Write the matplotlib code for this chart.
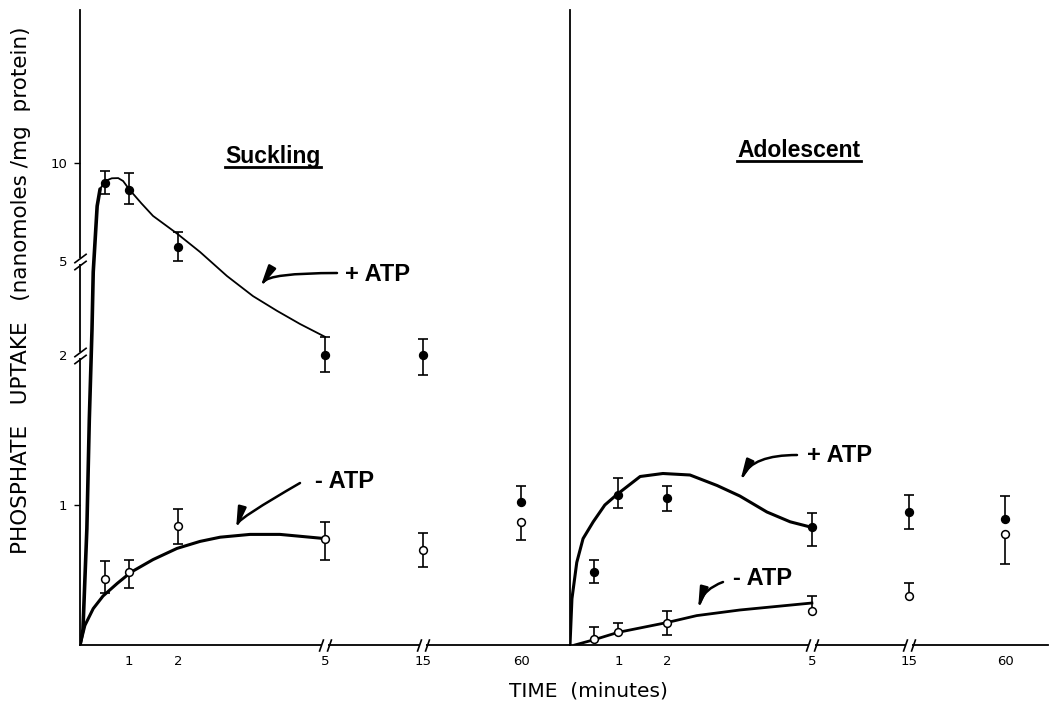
import numpy as np
import matplotlib
matplotlib.use('Agg')
import matplotlib.pyplot as plt
import matplotlib.transforms as mtransforms
from matplotlib.path import Path
from matplotlib.lines import Line2D

# ---------------- data ----------------
tick_times = [1, 2, 5, 15, 60]
tick_labels = ['1', '2', '5', '15', '60']
y_ticks = [1, 2, 5, 10]
y_tick_labels = ['1', '2', '5', '10']

times = [0.5, 1, 2, 5, 15, 60]

# Suckling, + ATP (filled circles)
suck_plus_y = [9.0, 8.6, 5.7, 2.0, 2.0, 1.02]
suck_plus_lo = [8.4, 7.9, 5.0, 1.89, 1.87, 1.02]
suck_plus_hi = [9.6, 9.5, 6.5, 2.58, 2.51, 1.13]
# Suckling, - ATP (open circles)
suck_minus_y = [0.47, 0.52, 0.85, 0.76, 0.68, 0.88]
suck_minus_lo = [0.37, 0.41, 0.72, 0.61, 0.56, 0.75]
suck_minus_hi = [0.60, 0.61, 0.97, 0.88, 0.80, 0.88]
# Adolescent, + ATP
adol_plus_y = [0.52, 1.07, 1.05, 0.84, 0.95, 0.90]
adol_plus_lo = [0.44, 0.98, 0.96, 0.71, 0.83, 0.90]
adol_plus_hi = [0.61, 1.18, 1.13, 0.94, 1.07, 1.06]
# Adolescent, - ATP
adol_minus_y = [0.04, 0.09, 0.16, 0.24, 0.35, 0.79]
adol_minus_lo = [0.04, 0.09, 0.07, 0.24, 0.35, 0.58]
adol_minus_hi = [0.13, 0.16, 0.24, 0.35, 0.44, 0.79]

# hand-drawn fitted curves
suck_plus_curve_t = [0, 0.06, 0.14, 0.19, 0.245, 0.27, 0.31, 0.35, 0.41, 0.51, 0.65, 0.78,
                     0.88, 1.0, 1.25, 1.49, 1.98, 2.45, 3.0, 3.53, 4.02, 4.49, 5.0]
suck_plus_curve_y = [0, 0.11, 0.83, 1.57, 2.83, 4.65, 6.12, 7.8, 8.67, 9.08, 9.22, 9.23,
                     9.08, 8.67, 7.95, 7.3, 6.4, 5.46, 4.52, 3.88, 3.41, 2.99, 2.58]
suck_minus_curve_t = [0, 0.10, 0.27, 0.47, 0.76, 1.04, 1.49, 1.98, 2.45, 2.86, 3.47, 4.08, 5.0]
suck_minus_curve_y = [0, 0.14, 0.26, 0.35, 0.44, 0.52, 0.61, 0.69, 0.74, 0.77, 0.79, 0.79, 0.76]
adol_plus_curve_t = [0, 0.04, 0.14, 0.27, 0.48, 0.72, 0.97, 1.45, 1.92, 2.48, 3.04, 3.51,
                     4.07, 4.55, 5.0]
adol_plus_curve_y = [0, 0.33, 0.59, 0.76, 0.88, 1.0, 1.07, 1.19, 1.21, 1.20, 1.13, 1.06,
                     0.95, 0.88, 0.84]
adol_minus_curve_t = [0.1, 0.52, 0.99, 2.0, 2.62, 3.51, 5.0]
adol_minus_curve_y = [0, 0.04, 0.09, 0.16, 0.21, 0.25, 0.30]

# ---------------- broken scales ----------------
Y_KNOTS_V = [-1, 0, 1, 2, 5, 10, 20]
Y_KNOTS_P = [-140, 0, 140, 290, 384, 482, 678]
X_KNOTS_T = [-5, 0, 5, 15, 60, 120]
X_KNOTS_U = [-5, 0, 5, 7, 9, 11]


def y_fwd(v):
    return np.interp(np.asarray(v, float), Y_KNOTS_V, Y_KNOTS_P)


def y_inv(p):
    return np.interp(np.asarray(p, float), Y_KNOTS_P, Y_KNOTS_V)


def x_fwd(t):
    return np.interp(np.asarray(t, float), X_KNOTS_T, X_KNOTS_U)


def x_inv(u):
    return np.interp(np.asarray(u, float), X_KNOTS_U, X_KNOTS_T)


W, H = 1050, 704
fig = plt.figure(figsize=(W / 100, H / 100), dpi=100)
ax1 = fig.add_axes([80 / W, 59 / H, 490 / W, 635 / H])
ax2 = fig.add_axes([570 / W, 59 / H, 478 / W, 635 / H])

for ax, umax in ((ax1, 10.0), (ax2, 9.88)):
    ax.set_xscale('function', functions=(x_fwd, x_inv))
    ax.set_yscale('function', functions=(y_fwd, y_inv))
    ax.set_xlim(0, float(x_inv(umax)))
    ax.set_ylim(0, float(y_inv(635)))
    ax.patch.set_alpha(0)
    for s in ('top', 'right'):
        ax.spines[s].set_visible(False)
    for s in ('left', 'bottom'):
        ax.spines[s].set_linewidth(1.3)
    ax.set_xticks(tick_times)
    ax.set_xticklabels(tick_labels, fontfamily='DejaVu Sans', fontsize=9.5)
    ax.tick_params(axis='x', length=0, pad=7)

ax1.set_yticks(y_ticks)
ax1.set_yticklabels(y_tick_labels, fontfamily='DejaVu Sans', fontsize=9.5)
ax1.tick_params(axis='y', length=4, width=1, pad=5, direction='out')
for tk, val in zip(ax1.yaxis.get_major_ticks(), y_ticks):
    if val in (2, 5):
        tk.tick1line.set_visible(False)
ax2.set_yticks([])


def points(ax, y, lo, hi, filled):
    t = np.array(times, float)
    y = np.array(y, float)
    lo = np.array(lo, float)
    hi = np.array(hi, float)
    ax.vlines(t, lo, hi, color='k', lw=1.2, zorder=3)
    m = hi > y
    ax.plot(t[m], hi[m], ls='none', marker='_', ms=7.5, mew=1.2, color='k', zorder=3)
    m = lo < y
    ax.plot(t[m], lo[m], ls='none', marker='_', ms=7.5, mew=1.2, color='k', zorder=3)
    ax.plot(t, y, ls='none', marker='o', ms=5.6, mew=1.1, mec='k',
            mfc='k' if filled else 'white', zorder=5)


points(ax1, suck_plus_y, suck_plus_lo, suck_plus_hi, True)
points(ax1, suck_minus_y, suck_minus_lo, suck_minus_hi, False)
points(ax2, adol_plus_y, adol_plus_lo, adol_plus_hi, True)
points(ax2, adol_minus_y, adol_minus_lo, adol_minus_hi, False)

ax1.plot(suck_plus_curve_t, suck_plus_curve_y, color='k', lw=1.3, zorder=4)
ax1.plot(suck_plus_curve_t[:9], suck_plus_curve_y[:9], color='k', lw=2.6, zorder=4,
         solid_capstyle='round')
ax1.plot(suck_minus_curve_t, suck_minus_curve_y, color='k', lw=2.2, zorder=4)
ax2.plot(adol_plus_curve_t, adol_plus_curve_y, color='k', lw=2.2, zorder=4)
ax2.plot(adol_minus_curve_t, adol_minus_curve_y, color='k', lw=2.0, zorder=4)


# ---------------- axis break marks ----------------
def break_mark(ax, pos, axis):
    if axis == 'x':
        base = ax.get_xaxis_transform()
        xy = (pos, 0)
        gap = Path([(-1, 0), (1, 0)])
        slash = Path([(-0.35, -1), (0.35, 1)])
        offs = [(-4, 0), (4, 0)]
    else:
        base = ax.get_yaxis_transform()
        xy = (0, pos)
        gap = Path([(0, -1), (0, 1)])
        slash = Path([(-1, -0.75), (1, 0.75)])
        offs = [(0, -3.5), (0, 3.5)]
    ax.plot([xy[0]], [xy[1]], transform=base, marker=gap, ms=5, mew=4,
            color='white', clip_on=False, zorder=6)
    for dx, dy in offs:
        tr = mtransforms.offset_copy(base, fig=ax.figure, x=dx, y=dy, units='dots')
        ax.plot([xy[0]], [xy[1]], transform=tr, marker=slash, ms=9, mew=1.2,
                color='k', clip_on=False, zorder=7)


for ax in (ax1, ax2):
    break_mark(ax, 5, 'x')
    break_mark(ax, 15, 'x')
break_mark(ax1, 2, 'y')
break_mark(ax1, 5, 'y')

# ---------------- labels ----------------
fig.text(21 / W, 414 / H, 'PHOSPHATE   UPTAKE   (nanomoles /mg  protein)',
         rotation=90, ha='center', va='center', fontsize=15.5, fontfamily='DejaVu Sans')
fig.text(588 / W, 13 / H, 'TIME  (minutes)', ha='center', va='center',
         fontsize=14.5, fontfamily='DejaVu Sans')

bold = dict(fontfamily='Liberation Sans', fontweight='bold')
t_suck = fig.text(273 / W, 541 / H, 'Suckling', ha='center', va='baseline', fontsize=16.5, **bold)
t_adol = fig.text(799 / W, 547 / H, 'Adolescent', ha='center', va='baseline', fontsize=16.5, **bold)

fig.text(345 / W, 423 / H, '+ ATP', ha='left', va='baseline', fontsize=17, **bold)
fig.text(315 / W, 216 / H, '- ATP', ha='left', va='baseline', fontsize=17, **bold)
fig.text(807 / W, 242 / H, '+ ATP', ha='left', va='baseline', fontsize=17, **bold)
fig.text(733 / W, 119 / H, '- ATP', ha='left', va='baseline', fontsize=17, **bold)


def arrow(tail, tip, conn):
    fig.add_artist(matplotlib.patches.FancyArrowPatch(
        posA=tail, posB=tip, transform=mtransforms.IdentityTransform(),
        arrowstyle='-|>,head_length=0.9,head_width=0.17', connectionstyle=conn,
        lw=1.8, color='k', shrinkA=0, shrinkB=0, mutation_scale=14))


arrow((337, 431), (260, 416), 'angle3,angleA=0,angleB=60')
arrow((300, 221), (236, 174), 'angle3,angleA=30,angleB=75')
arrow((797, 249), (740, 222), 'angle3,angleA=0,angleB=65')
arrow((723, 122), (698, 94), 'angle3,angleA=20,angleB=75')

# underline the panel titles
fig.canvas.draw()
rend = fig.canvas.get_renderer()
for t in (t_suck, t_adol):
    bb = t.get_window_extent(rend)
    fig.add_artist(Line2D([bb.x0, bb.x1], [bb.y0 + 1, bb.y0 + 1], lw=2.0, color='k',
                          transform=mtransforms.IdentityTransform()))

fig.savefig('out.png', dpi=100, facecolor='white')
